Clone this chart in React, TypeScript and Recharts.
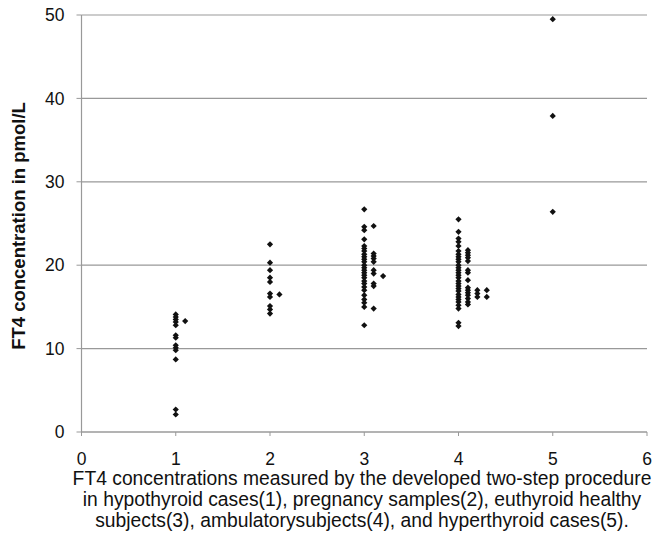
import { CartesianGrid, Scatter, ScatterChart, XAxis, YAxis } from "recharts";

const FONT = "'Liberation Sans', Arial, sans-serif";
const AXIS_COLOR = "#999999";
const DOT_COLOR = "#111111";

const xTicks = [0, 1, 2, 3, 4, 5, 6];
const yTicks = [0, 10, 20, 30, 40, 50];

// values per column
const hypothyroid = [14.1, 13.8, 13.5, 13.2, 12.8, 11.6, 11.3, 10.4, 10.1, 9.8, 8.7, 2.7, 2.1];
const hypothyroidSide = [13.3];
const pregnancy = [22.5, 20.3, 19.4, 18.5, 18.0, 16.6, 16.2, 15.1, 14.7, 14.2];
const pregnancySide = [16.5];
const euthyroid = [
  26.7, 24.6, 24.2, 23.1, 22.3, 22.0, 21.7, 21.3, 21.0, 20.7, 20.4, 20.0, 19.7,
  19.4, 19.1, 18.8, 18.5, 18.1, 17.8, 17.4, 17.0, 16.4, 15.9, 15.5, 15.0, 12.8,
];
const euthyroidSide = [24.7, 21.4, 21.1, 20.8, 20.4, 19.4, 19.0, 17.8, 17.5, 14.8];
const euthyroidOuter = [18.7];
const ambulatory = [
  25.5, 24.0, 23.2, 22.8, 22.3, 21.7, 21.3, 21.0, 20.7, 20.4, 20.0, 19.7, 19.4,
  19.1, 18.8, 18.5, 18.1, 17.8, 17.5, 17.2, 16.9, 16.5, 16.2, 15.9, 15.6, 15.2,
  14.8, 13.1, 12.7,
];
const ambulatorySide = [21.8, 21.5, 21.2, 20.9, 20.5, 19.4, 19.1, 18.2, 17.3, 17.0, 16.7, 16.4, 16.0, 15.6, 15.3];
const ambulatoryThird = [17.0, 16.6, 16.2];
const ambulatoryFourth = [17.0, 16.2];
const hyperthyroid = [49.5, 37.9, 26.4];

const columns: { x: number; values: number[] }[] = [
  { x: 1, values: hypothyroid },
  { x: 1.1, values: hypothyroidSide },
  { x: 2, values: pregnancy },
  { x: 2.1, values: pregnancySide },
  { x: 3, values: euthyroid },
  { x: 3.1, values: euthyroidSide },
  { x: 3.2, values: euthyroidOuter },
  { x: 4, values: ambulatory },
  { x: 4.1, values: ambulatorySide },
  { x: 4.2, values: ambulatoryThird },
  { x: 4.3, values: ambulatoryFourth },
  { x: 5, values: hyperthyroid },
];

const points = columns.flatMap((c) => c.values.map((y) => ({ x: c.x, y })));

const xTitle = [
  "FT4 concentrations measured by the developed two-step procedure",
  "in hypothyroid cases(1), pregnancy samples(2), euthyroid healthy",
  "subjects(3), ambulatorysubjects(4), and hyperthyroid cases(5).",
];
const yTitle = "FT4 concentration in pmol/L";

const Diamond = (props: any) => {
  const { cx, cy } = props;
  const r = 3.1;
  return (
    <polygon
      points={`${cx},${cy - r} ${cx + r},${cy} ${cx},${cy + r} ${cx - r},${cy}`}
      fill={DOT_COLOR}
    />
  );
};

const XTitle = () => (
  <g>
    {xTitle.map((line, i) => (
      <text
        key={i}
        x={362}
        y={485 + i * 21}
        textAnchor="middle"
        fontSize={19.3}
        fontFamily={FONT}
        fill="#111"
      >
        {line}
      </text>
    ))}
  </g>
);

const YTitle = () => (
  <text
    x={25}
    y={226}
    transform="rotate(-90 25 226)"
    textAnchor="middle"
    fontSize={18.5}
    fontWeight="bold"
    fontFamily={FONT}
    fill="#111"
  >
    {yTitle}
  </text>
);

export default function App() {
  return (
    <div style={{ position: "absolute", left: 0, top: 0, background: "#fff" }}>
      <ScatterChart
        width={655}
        height={543}
        margin={{ top: 15, right: 8, bottom: 0, left: 0 }}
      >
        <CartesianGrid vertical={false} stroke={AXIS_COLOR} strokeWidth={1.2} />
        <XAxis
          type="number"
          dataKey="x"
          domain={[0, 6]}
          ticks={xTicks}
          allowDataOverflow
          height={111}
          axisLine={{ stroke: AXIS_COLOR, strokeWidth: 1.2 }}
          tickLine={{ stroke: AXIS_COLOR }}
          tickSize={4}
          tickMargin={17}
          tick={{ fill: "#111", fontSize: 17.5, fontFamily: FONT }}
          label={{ content: () => <XTitle /> }}
        />
        <YAxis
          type="number"
          dataKey="y"
          domain={[0, 50]}
          ticks={yTicks}
          allowDataOverflow
          width={81.5}
          axisLine={{ stroke: AXIS_COLOR, strokeWidth: 1.2 }}
          tickLine={{ stroke: AXIS_COLOR }}
          tickSize={5}
          tickMargin={12}
          tick={{ fill: "#111", fontSize: 17.5, fontFamily: FONT }}
          label={{ content: () => <YTitle /> }}
        />
        <Scatter data={points} shape={<Diamond />} isAnimationActive={false} />
      </ScatterChart>
    </div>
  );
}
